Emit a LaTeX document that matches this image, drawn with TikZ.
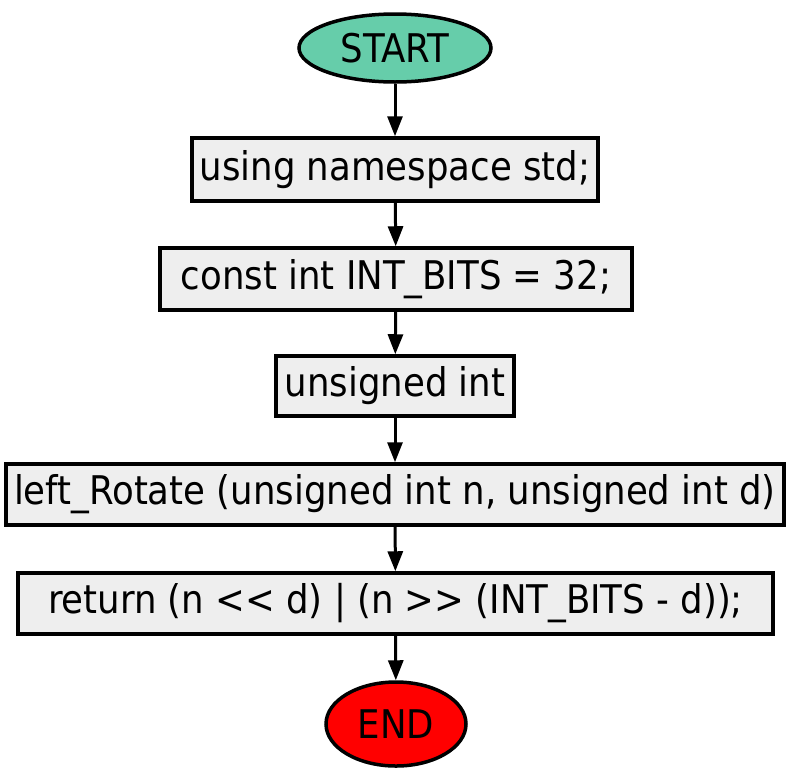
\documentclass[tikz,border=0pt]{standalone}
\usepackage{fontspec}
\setmainfont{DejaVu Sans Condensed}
\usetikzlibrary{shapes.geometric,arrows.meta}
\definecolor{startfill}{HTML}{66CDAA}
\definecolor{endfill}{HTML}{FF0000}
\definecolor{boxfill}{HTML}{EEEEEE}

\tikzset{
  terminal/.style={ellipse,draw=black,line width=3.5pt,inner sep=0pt},
  stepbox/.style={rectangle,draw=black,line width=3.5pt,fill=boxfill,inner sep=0pt},
  flow/.style={line width=3pt,-{Triangle[length=20pt,width=15pt]}}
}

\begin{document}
\begin{tikzpicture}[x=1pt,y=-1pt,font=\fontsize{39.5}{47}\selectfont]
\useasboundingbox (0,0) rectangle (791,774);
% start / end
\node[terminal,fill=startfill,minimum width=192pt,minimum height=68pt] (start) at (395,48) {START};
\node[terminal,fill=endfill,minimum width=140pt,minimum height=84pt] (end) at (396,724) {END};
% program steps
\node[stepbox,minimum width=406pt,minimum height=63pt] (ns) at (395,169.5) {using namespace std;};
\node[stepbox,minimum width=472pt,minimum height=62pt] (bits) at (396,279) {const int INT\_BITS = 32;};
\node[stepbox,minimum width=238pt,minimum height=60pt] (uint) at (395,386) {unsigned int};
\node[stepbox,minimum width=778pt,minimum height=61pt] (func) at (395,494.5) {left\_Rotate (unsigned int n, unsigned int d)};
\node[stepbox,minimum width=755pt,minimum height=61pt] (ret) at (395.5,603.5) {return (n {<}{<} d) | (n {>}{>} (INT\_BITS - d));};
% arrows
\draw[flow] (start) -- (ns);
\draw[flow] (ns) -- (bits);
\draw[flow] (bits) -- (uint);
\draw[flow] (uint) -- (func);
\draw[flow] (func) -- (ret);
\draw[flow] (ret) -- (end);
\end{tikzpicture}
\end{document}
